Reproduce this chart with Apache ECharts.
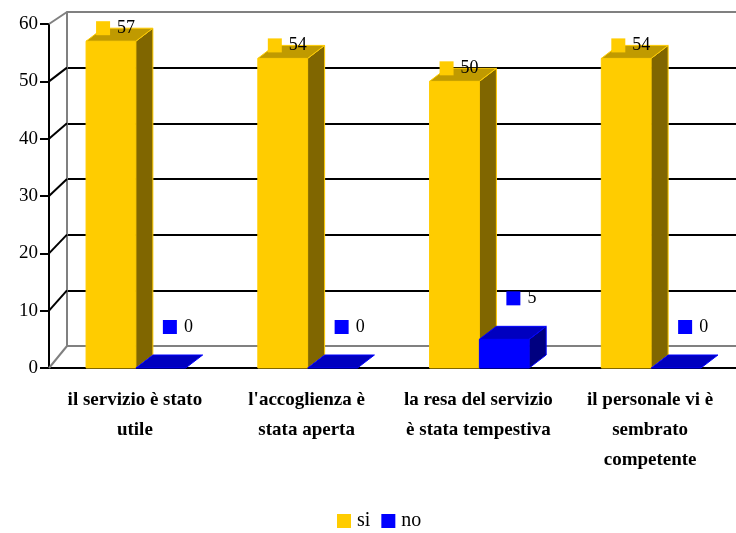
<!DOCTYPE html>
<html>
<head>
<meta charset="utf-8">
<script src="https://cdn.jsdelivr.net/npm/echarts@6/dist/echarts.min.js"></script>
<style>
  html, body { margin: 0; padding: 0; background: #fff; }
  #chart { width: 736px; height: 533px; }
</style>
</head>
<body>
<div id="chart"></div>
<script>
const categories = [
  "il servizio è stato\nutile",
  "l'accoglienza è\nstata aperta",
  "la resa del servizio\nè stata tempestiva",
  "il personale vi è\nsembrato\ncompetente"
];
const siValues = [57, 54, 50, 54];
const noValues = [0, 0, 5, 0];
const yTicks = [0, 10, 20, 30, 40, 50, 60];

const FONT = "'Liberation Serif', 'DejaVu Serif', serif";
// depth of the 3d bars
const DX = 17, DY = -13;

function barRenderer(colors, side, labelDx, labelDy) {
  return function (params, api) {
    const cat = api.value(0);
    const v = api.value(1);
    const base = api.coord([cat, 0]);
    const top = api.coord([cat, v]);
    const band = api.size([1, 0])[0];
    const w = band * 0.29;
    const x0 = side === 0 ? base[0] - w + 1 : base[0] + 1;
    const yb = base[1], yt = top[1];
    const stroke = { stroke: colors.front, lineWidth: 1 };
    const children = [];
    if (yb - yt > 0.5) {
      children.push({
        type: "rect",
        shape: { x: x0, y: yt, width: w, height: yb - yt },
        style: Object.assign({ fill: colors.front }, stroke)
      });
      children.push({
        type: "polygon",
        shape: { points: [[x0 + w, yb], [x0 + w + DX, yb + DY], [x0 + w + DX, yt + DY], [x0 + w, yt]] },
        style: Object.assign({ fill: colors.side }, stroke)
      });
    }
    children.push({
      type: "polygon",
      shape: { points: [[x0, yt], [x0 + DX, yt + DY], [x0 + w + DX, yt + DY], [x0 + w, yt]] },
      style: Object.assign({ fill: colors.top }, stroke)
    });
    // label: legend key + value
    const lx = x0 + labelDx, ly = yt + DY + labelDy;
    children.push({
      type: "rect",
      shape: { x: lx, y: ly - 7, width: 14, height: 14 },
      style: { fill: colors.front },
      z2: 10
    });
    children.push({
      type: "text",
      style: {
        text: String(v), x: lx + 21, y: ly, fill: "#000",
        font: "18px " + FONT, textVerticalAlign: "middle"
      },
      z2: 10
    });
    return { type: "group", children: children };
  };
}

const chart = echarts.init(document.getElementById("chart"));

const option = {
  animation: false,
  legend: {
    top: 506,
    left: 332,
    icon: "rect",
    itemWidth: 14,
    itemHeight: 14,
    itemGap: 11,
    textStyle: { fontFamily: FONT, fontSize: 20, color: "#000", padding: [0, 0, 0, 1] },
    data: ["si", "no"]
  },
  grid: [
    // back wall
    { left: 67, right: 0, top: 12, bottom: 187 },
    // front plane
    { left: 49, right: 0, top: 24, bottom: 165 }
  ],
  xAxis: [
    { type: "category", gridIndex: 0, data: categories, show: false },
    {
      type: "category", gridIndex: 1, data: categories,
      axisLine: { lineStyle: { color: "#000", width: 2 } },
      axisTick: { length: 7, lineStyle: { color: "#000", width: 1.5 } },
      axisLabel: {
        margin: 17, color: "#000", fontFamily: FONT, fontSize: 19,
        fontWeight: "bold", lineHeight: 30, interval: 0
      }
    }
  ],
  yAxis: [
    {
      type: "value", gridIndex: 0, min: 0, max: 60, interval: 10,
      axisLine: { show: true, lineStyle: { color: "#808080", width: 2 } },
      axisTick: { show: false },
      axisLabel: { show: false },
      splitLine: {
        show: true,
        lineStyle: { color: ["#808080", "#000", "#000", "#000", "#000", "#000", "#808080"], width: 2 }
      }
    },
    {
      type: "value", gridIndex: 1, min: 0, max: 60, interval: 10,
      axisLine: { show: true, lineStyle: { color: "#000", width: 2 } },
      axisTick: { show: true, length: 9, lineStyle: { color: "#000", width: 2 } },
      axisLabel: { margin: 11, color: "#000", fontFamily: FONT, fontSize: 19 },
      splitLine: { show: false }
    }
  ],
  series: [
    {
      name: "si",
      type: "custom",
      xAxisIndex: 1, yAxisIndex: 1,
      itemStyle: { color: "#FFCC00" },
      renderItem: barRenderer({ front: "#FFCC00", side: "#806600", top: "#C09A00" }, 0, 10, 0),
      data: siValues.map((v, i) => [i, v]),
      z: 3
    },
    {
      name: "no",
      type: "custom",
      xAxisIndex: 1, yAxisIndex: 1,
      itemStyle: { color: "#0000FF" },
      renderItem: barRenderer({ front: "#0000FF", side: "#000080", top: "#0000C0" }, 1, 27, -28),
      data: noValues.map((v, i) => [i, v]),
      z: 4
    }
  ]
};

chart.setOption(option);

// diagonal lines joining the front axis ticks to the back wall
const diagonals = yTicks.map((v, i) => {
  const yf = chart.convertToPixel({ yAxisIndex: 1 }, v);
  const yb = chart.convertToPixel({ yAxisIndex: 0 }, v);
  const edge = i === 0 || i === yTicks.length - 1;
  return {
    type: "line",
    shape: { x1: 49, y1: yf, x2: 67, y2: yb },
    style: { stroke: edge ? "#808080" : "#000", lineWidth: 2 },
    z: 2
  };
});
chart.setOption({ graphic: diagonals });
</script>
</body>
</html>
